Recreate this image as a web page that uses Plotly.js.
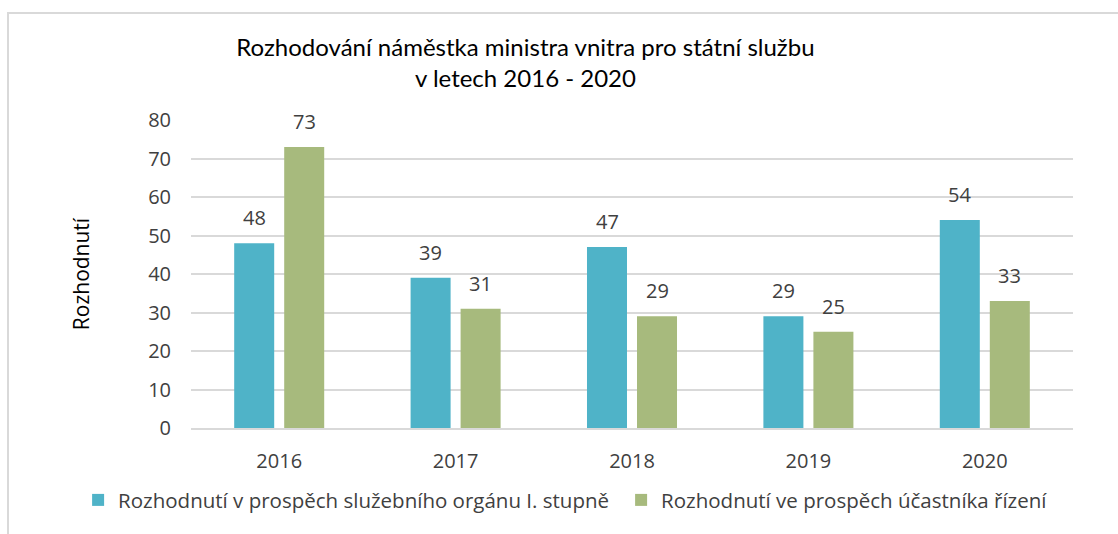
<!DOCTYPE html>
<html>
<head>
<meta charset="utf-8">
<script src="https://cdn.plot.ly/plotly-3.0.1.min.js"></script>
<style>
html,body{margin:0;padding:0;background:#fff;}
#wrap{position:relative;width:1118px;height:534px;}
#frame{position:absolute;left:7px;top:12px;width:1111px;height:522px;border-left:2px solid #D9D9D9;border-top:2px solid #D9D9D9;box-sizing:border-box;pointer-events:none;z-index:2;}
#chart{position:absolute;left:0;top:0;width:1118px;height:534px;}
</style>
</head>
<body>
<div id="wrap"><div id="chart"></div><div id="frame"></div></div>
<script>
const years = ['2016','2017','2018','2019','2020'];
const organValues = [48, 39, 47, 29, 54];
const ucastnikValues = [73, 31, 29, 25, 33];
const seriesNames = ['Rozhodnutí v prospěch služebního orgánu I. stupně', 'Rozhodnutí ve prospěch účastníka řízení'];
const yTicks = [0,10,20,30,40,50,60,70,80];

const colors = ['#4FB3C8', '#A7BA7D'];
const legendWidths = [498, 395];
const seriesValues = [organValues, ucastnikValues];

const traces = seriesValues.map((vals, i) => ({
  type: 'bar',
  name: seriesNames[i],
  x: years,
  y: vals,
  marker: {color: colors[i]},
  legendwidth: legendWidths[i],
  hoverinfo: 'x+y'
}));

const annotations = [];
seriesValues.forEach((vals, i) => {
  vals.forEach((v, j) => {
    annotations.push({
      x: j, y: v, xref: 'x', yref: 'y',
      xshift: i === 0 ? -25 : 25, yshift: 10,
      yanchor: 'bottom', xanchor: 'center',
      text: String(v), showarrow: false,
      font: {family: 'Open Sans', size: 20, color: '#404040'}
    });
  });
});

const layout = {
  width: 1118, height: 534,
  margin: {l: 191, r: 45, t: 120, b: 106},
  paper_bgcolor: '#fff', plot_bgcolor: '#fff',
  barmode: 'group', bargap: 0.433, bargroupgap: 0.2,
  title: {
    text: 'Rozhodování náměstka ministra vnitra pro státní službu<br>v letech 2016 - 2020',
    x: 0.47, xanchor: 'center', xref: 'container',
    y: 0.895, yanchor: 'top', yref: 'container',
    font: {family: 'Lato', size: 24, color: '#000'}
  },
  xaxis: {
    type: 'category', range: [-0.5, 4.5],
    showline: true, linecolor: '#D9D9D9', linewidth: 2,
    showgrid: false, ticks: '',
    ticklabelstandoff: 14,
    tickfont: {family: 'Open Sans', size: 20, color: '#404040'}
  },
  yaxis: {
    range: [0, 80], tickvals: yTicks, ticktext: yTicks.map(String),
    showgrid: true, gridcolor: '#D9D9D9', gridwidth: 2,
    zeroline: false, showline: false, ticks: '',
    ticklabelstandoff: 19,
    tickfont: {family: 'Open Sans', size: 20, color: '#404040'},
    title: {text: 'Rozhodnutí', standoff: 52, font: {family: 'Open Sans', size: 21, color: '#000'}}
  },
  showlegend: true,
  legend: {
    orientation: 'h', x: -0.128, xanchor: 'left', y: -0.234, yanchor: 'middle',
    font: {family: 'Open Sans', size: 20.5, color: '#404040'},
    traceorder: 'normal', itemclick: false
  },
  annotations: annotations
};

Plotly.newPlot('chart', traces, layout, {displayModeBar: false, staticPlot: true});
</script>
</body>
</html>
